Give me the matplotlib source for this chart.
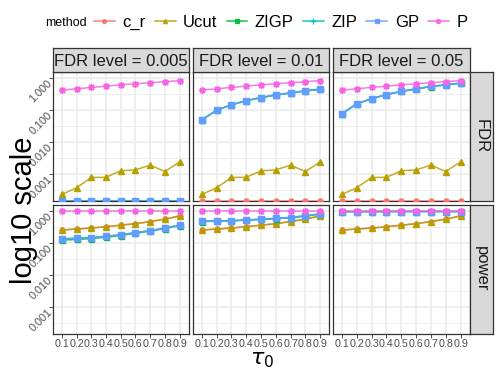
import numpy as np
import matplotlib
matplotlib.use("Agg")
import matplotlib.pyplot as plt
from matplotlib.lines import Line2D

plt.rcParams['font.family'] = ['Liberation Sans', 'DejaVu Sans']

# ---------------- data ----------------
tau_labels = ["0.1", "0.2", "0.3", "0.4", "0.5", "0.6", "0.7", "0.8", "0.9"]
fdr_levels = ["FDR level = 0.005", "FDR level = 0.01", "FDR level = 0.05"]
metrics = ["FDR", "power"]
methods = ["c_r", "Ucut", "ZIGP", "ZIP", "GP", "P"]
colors = ["#F8766D", "#B79F00", "#00BA38", "#00BFC4", "#619CFF", "#F564E3"]

# FDR row (0 = not representable on log scale, drawn at the panel edge)
fdr_c_r = [[0, 0, 0, 0, 0, 0, 0, 0, 0]] * 3
fdr_ucut = [[0.00023, 0.00037, 0.00078, 0.00079, 0.00126, 0.00135, 0.0019, 0.0012, 0.0024]] * 3
fdr_ucut_upper = [[0.0010, 0.00148, 0.0023, 0.0026, 0.0032, 0.0046, 0.0049, 0.0032, 0.0063]] * 3
fdr_zigp = [[0, 0, 0, 0, 0, 0, 0, 0, 0],
            [0.050, 0.100, 0.148, 0.200, 0.245, 0.300, 0.345, 0.400, 0.450],
            [0.077, 0.160, 0.230, 0.310, 0.390, 0.465, 0.555, 0.625, 0.700]]
fdr_zip = [[0, 0, 0, 0, 0, 0, 0, 0, 0],
           [0.050, 0.100, 0.148, 0.200, 0.250, 0.310, 0.350, 0.410, 0.460],
           [0.077, 0.160, 0.230, 0.310, 0.390, 0.470, 0.560, 0.630, 0.710]]
fdr_gp = [[0, 0, 0, 0, 0, 0, 0, 0, 0],
          [0.050, 0.100, 0.148, 0.200, 0.250, 0.310, 0.350, 0.410, 0.460],
          [0.077, 0.160, 0.230, 0.310, 0.390, 0.470, 0.560, 0.630, 0.710]]
fdr_p = [[0.43, 0.47, 0.52, 0.57, 0.63, 0.68, 0.73, 0.79, 0.85]] * 3

# power row
pow_c_r = [[0.26, 0.28, 0.30, 0.33, 0.37, 0.41, 0.48, 0.57, 0.72]] * 3
pow_ucut = [[0.26, 0.28, 0.30, 0.33, 0.37, 0.41, 0.48, 0.57, 0.72]] * 3
pow_zigp = [[0.125, 0.132, 0.140, 0.155, 0.175, 0.205, 0.240, 0.290, 0.355],
            [0.48, 0.49, 0.50, 0.53, 0.56, 0.59, 0.63, 0.71, 0.81],
            [0.98, 0.98, 0.98, 0.99, 0.99, 0.99, 0.99, 0.99, 0.99]]
pow_zip = [[0.137, 0.144, 0.151, 0.166, 0.186, 0.215, 0.250, 0.300, 0.370],
           [0.49, 0.50, 0.51, 0.54, 0.57, 0.60, 0.65, 0.73, 0.84],
           [0.98, 0.98, 0.98, 0.99, 0.99, 0.99, 0.99, 0.99, 0.99]]
pow_gp = [[0.137, 0.144, 0.151, 0.166, 0.186, 0.215, 0.250, 0.300, 0.370],
          [0.49, 0.50, 0.51, 0.54, 0.57, 0.60, 0.64, 0.72, 0.82],
          [0.98, 0.98, 0.98, 0.99, 0.99, 0.99, 0.99, 0.99, 0.99]]
pow_p = [[1.0, 1.0, 1.0, 1.0, 1.0, 1.0, 1.0, 1.0, 1.0]] * 3

rows = {
    "FDR": [fdr_c_r, fdr_ucut, fdr_zigp, fdr_zip, fdr_gp, fdr_p],
    "power": [pow_c_r, pow_ucut, pow_zigp, pow_zip, pow_gp, pow_p],
}
y_breaks = [0.001, 0.01, 0.1, 1.0]
y_break_labels = ["0.001", "0.010", "0.100", "1.000"]

# ---------------- layout ----------------
W, H = 498, 374
fig = plt.figure(figsize=(W / 100, H / 100), dpi=100)

def rect(x0, y0, x1, y1):
    return [x0 / W, 1 - y1 / H, (x1 - x0) / W, (y1 - y0) / H]

col_x = [(53, 188.5), (193, 329), (333, 469.5)]
row_y = [(72, 200.5), (205, 333.5)]
strip_top = (48, 72)
strip_right = (469.5, 493)

markers = ["o", "^", "s", "+", "s", (8, 2, 0)]
msizes = [3.6, 4.0, 3.6, 5.0, 3.8, 5.0]
ymin, ymax = 10 ** -3.83, 10 ** 0.2
x = np.arange(len(tau_labels))
border = "#333333"

for r, metric in enumerate(metrics):
    for c in range(3):
        ax = fig.add_axes(rect(col_x[c][0], row_y[r][0], col_x[c][1], row_y[r][1]))
        ax.set_facecolor("white")
        ax.set_yscale("log")
        ax.set_ylim(ymin, ymax)
        ax.set_xlim(-0.6, len(tau_labels) - 0.4)
        # grid
        for b in y_breaks:
            ax.axhline(b, color="#EBEBEB", lw=1.1, zorder=0)
        for e in [-3.5, -2.5, -1.5, -0.5]:
            ax.axhline(10 ** e, color="#EBEBEB", lw=0.55, zorder=0)
        for xi in x:
            ax.axvline(xi, color="#EBEBEB", lw=1.1, zorder=0)
        ax.minorticks_off()
        ax.set_yticks(y_breaks)
        if c == 0:
            ax.set_yticklabels(y_break_labels, rotation=45, ha="right", va="top",
                               rotation_mode="anchor", color="#4D4D4D", fontsize=7.8)
        else:
            ax.set_yticklabels([])
        ax.set_xticks(x)
        if r == 1:
            ax.set_xticklabels(tau_labels, color="#4D4D4D", fontsize=7.7)
        else:
            ax.set_xticklabels([])
        ax.tick_params(axis="both", length=2.8, width=0.6, color=border, pad=1.5)
        if r == 0:
            ax.tick_params(axis="x", length=0)
        if c > 0:
            ax.tick_params(axis="y", length=0)
        for s in ax.spines.values():
            s.set_color(border)
            s.set_linewidth(0.9)

        # Ucut faint upper error markers (FDR row)
        if metric == "FDR":
            ax.plot(x, fdr_ucut_upper[c], ls="none", marker="o", ms=1.0,
                    color=colors[1], alpha=0.2, mew=0, zorder=2)

        for m, (name, col) in enumerate(zip(methods, colors)):
            vals = np.array(rows[metric][m][c], dtype=float)
            vals = np.where(vals > 0, vals, ymin)
            ax.plot(x, vals, color=col, lw=1.1, alpha=0.85, zorder=3 + m)
            ax.plot(x, vals, ls="none", marker=markers[m], ms=msizes[m],
                    color=col, mec=col, mew=1.0, zorder=3 + m)

        # top strips
        if r == 0:
            sax = fig.add_axes(rect(col_x[c][0], strip_top[0], col_x[c][1], strip_top[1]))
            sax.set_facecolor("#D9D9D9")
            sax.set_xticks([]); sax.set_yticks([])
            for s in sax.spines.values():
                s.set_color(border); s.set_linewidth(0.9)
            sax.text(0.5, 0.45, fdr_levels[c], ha="center", va="center",
                     fontsize=12, color="#1A1A1A", transform=sax.transAxes)
    # right strips
    sax = fig.add_axes(rect(strip_right[0], row_y[r][0], strip_right[1], row_y[r][1]))
    sax.set_facecolor("#D9D9D9")
    sax.set_xticks([]); sax.set_yticks([])
    for s in sax.spines.values():
        s.set_color(border); s.set_linewidth(0.9)
    sax.text(0.5, 0.5, metric, ha="center", va="center", rotation=-90,
             fontsize=12, color="#1A1A1A", transform=sax.transAxes)

# axis titles
fig.text(24 / W, 1 - 210 / H, "log10 scale", rotation=90, ha="center", va="center",
         fontsize=21, color="black")
fig.text(262 / W, 1 - 360 / H, r"$\tau_0$", ha="center", va="center",
         fontsize=16, color="black")

# legend
fig.text(45 / W, 1 - 22.5 / H, "method", ha="left", va="center", fontsize=9)
handles = [Line2D([0], [0], color=col, lw=1.1, marker=mk, ms=ms * 0.75, alpha=0.9)
           for col, mk, ms in zip(colors, markers, msizes)]
fig.legend(handles, methods, loc="center left", bbox_to_anchor=(94 / W, 1 - 22.5 / H),
           ncol=6, frameon=False, fontsize=12, handlelength=1.25, handletextpad=0.45,
           columnspacing=0.55, borderpad=0, borderaxespad=0)

fig.savefig("out.png", dpi=100)
